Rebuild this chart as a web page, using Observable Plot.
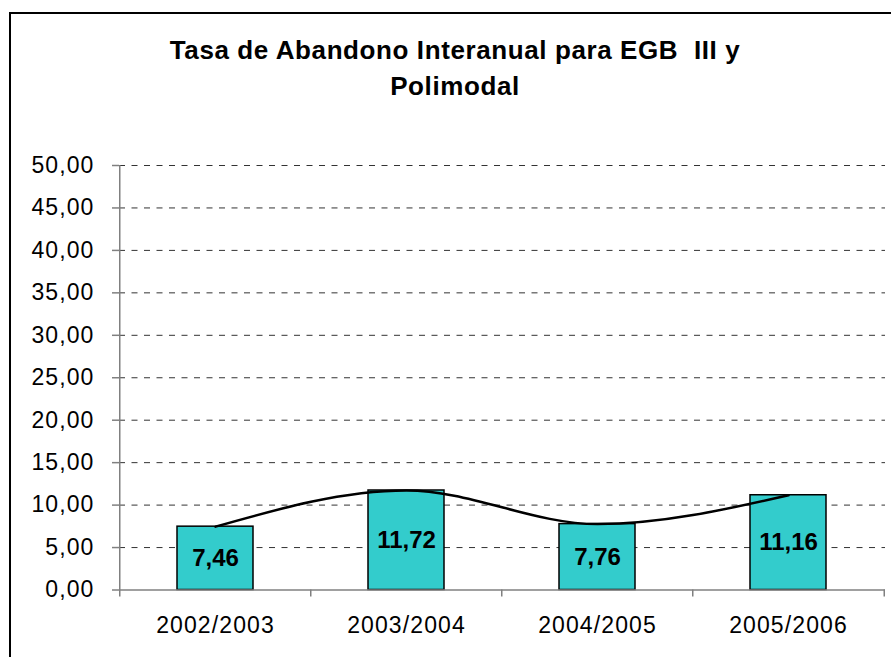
<!DOCTYPE html>
<html>
<head>
<meta charset="utf-8">
<script src="https://cdn.jsdelivr.net/npm/d3@7"></script>
<script src="https://cdn.jsdelivr.net/npm/@observablehq/plot@0.6"></script>
<style>
  html, body { margin: 0; padding: 0; background: #fff; }
  #wrap { position: relative; width: 891px; height: 657px; overflow: hidden; background: #fff; }
  #frame { position: absolute; left: 9px; top: 12px; width: 1000px; height: 1000px;
           border-left: 2px solid #000; border-top: 2px solid #000; pointer-events: none; }
  #title { position: absolute; left: 19px; width: 872px; top: 32px; text-align: center;
           font-family: "Liberation Sans", Arial, sans-serif; font-weight: bold; font-size: 26px;
           letter-spacing: 0.6px; line-height: 36px; white-space: pre; color: #000; }
  #chart { position: absolute; left: 0; top: 0; }
  g[aria-label="y-axis tick label"], g[aria-label="x-axis tick label"] { letter-spacing: 1.1px; }
</style>
</head>
<body>
<div id="wrap">
  <div id="chart"></div>
  <div id="title"></div>
  <div id="frame"></div>
</div>
<script>
const titleLines = ["Tasa de Abandono Interanual para EGB  III y", "Polimodal"];
const periodos = ["2002/2003", "2003/2004", "2004/2005", "2005/2006"];
const tasas = [7.46, 11.72, 7.76, 11.16];
const yTicks = [0, 5, 10, 15, 20, 25, 30, 35, 40, 45, 50];

const data = periodos.map((p, i) => ({periodo: p, tasa: tasas[i]}));
const fmt = v => v.toFixed(2).replace(".", ",");

document.getElementById("title").textContent = titleLines.join("\n");

const W = 891, H = 657, mL = 119, mR = 6, mT = 165, mB = 67.5;
const step = (W - mL - mR) / periodos.length;
const pxPerUnit = (H - mT - mB) / 50;
const tickU = 7 / pxPerUnit;
const axisGray = "#808080";

const chart = Plot.plot({
  width: W, height: H,
  marginLeft: mL, marginRight: mR, marginTop: mT, marginBottom: mB,
  style: {fontFamily: "'Liberation Sans', Arial, sans-serif", fontSize: "23px", color: "#000", background: "transparent", overflow: "visible"},
  x: {domain: periodos, paddingInner: 0.6, paddingOuter: 0.3},
  y: {domain: [0, 50]},
  marks: [
    Plot.ruleY(yTicks.filter(v => v > 0), {stroke: "#333", strokeWidth: 1, strokeDasharray: "6,6.5"}),
    Plot.barY(data, {x: "periodo", y: "tasa", fill: "#33CCCC", stroke: "#000", strokeWidth: 1.5}),
    Plot.ruleY([0], {stroke: axisGray, strokeWidth: 1.5}),
    Plot.ruleX([periodos[0]], {x: d => d, dx: -step / 2, y1: -tickU, y2: 50, stroke: axisGray, strokeWidth: 1.5}),
    Plot.ruleX(periodos.slice(1), {x: d => d, dx: -step / 2, y1: -tickU, y2: 0, stroke: axisGray, strokeWidth: 1.5}),
    Plot.ruleX([periodos[periodos.length - 1]], {x: d => d, dx: step / 2, y1: -tickU, y2: 0, stroke: axisGray, strokeWidth: 1.5}),
    Plot.line(data, {x: "periodo", y: "tasa", curve: "monotone-x", stroke: "#000", strokeWidth: 2.5}),
    Plot.text(data, {x: "periodo", y: d => d.tasa / 2, text: d => fmt(d.tasa), fontWeight: "bold", fontSize: 24, fill: "#000"}),
    Plot.axisY(yTicks, {tickSize: 7, tickPadding: 18, tickFormat: fmt, stroke: axisGray, strokeWidth: 1.5, fontSize: 23, label: null}),
    Plot.axisX({tickSize: 0, tickPadding: 27, fontSize: 23, label: null})
  ]
});
document.getElementById("chart").appendChild(chart);
</script>
</body>
</html>
